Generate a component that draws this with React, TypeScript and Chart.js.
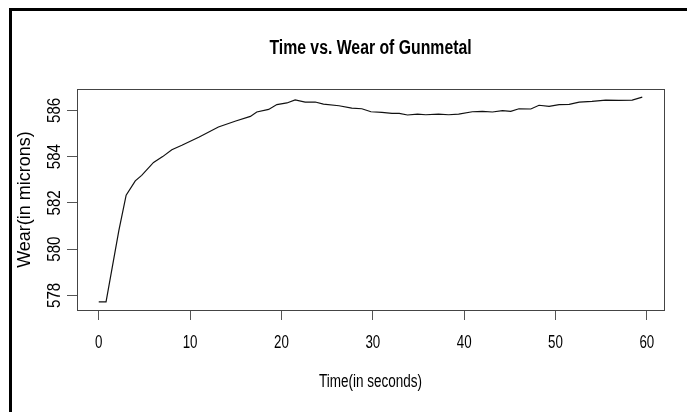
import React, { useEffect, useRef } from "react";
import { Chart, registerables } from "chart.js";

Chart.register(...registerables);

const timeSeconds = [
  0, 0.8, 2.2, 3.0, 4.0, 4.7, 6.0, 7.0, 8.0, 9.1, 11.0, 13.1, 15.0, 16.6, 17.3,
  18.6, 19.5, 20.6, 21.5, 22.6, 23.7, 24.6, 26.3, 27.7, 28.8, 29.8, 31.0, 32.1,
  32.9, 33.8, 34.9, 35.8, 37.2, 38.3, 39.4, 40.9, 42.0, 43.1, 44.2, 45.1, 46.0,
  47.3, 48.2, 49.3, 50.4, 51.5, 52.6, 54.0, 55.5, 56.9, 58.4, 59.5,
];
const wearMicrons = [
  577.72, 577.72, 580.8, 582.33, 582.95, 583.19, 583.75, 584.0, 584.3, 584.49,
  584.85, 585.28, 585.54, 585.74, 585.93, 586.04, 586.25, 586.32, 586.45, 586.36,
  586.36, 586.27, 586.2, 586.1, 586.07, 585.94, 585.91, 585.87, 585.87, 585.8,
  585.84, 585.81, 585.84, 585.81, 585.84, 585.94, 585.96, 585.93, 585.99, 585.96,
  586.07, 586.06, 586.22, 586.17, 586.25, 586.26, 586.36, 586.39, 586.44, 586.43,
  586.44, 586.57,
];
const xTickValues = [0, 10, 20, 30, 40, 50, 60];
const yTickValues = [578, 580, 582, 584, 586];

const chartTitle = "Time vs. Wear of Gunmetal";
const xTitle = "Time(in seconds)";
const yTitle = "Wear(in microns)";

const FAMILY = '"Liberation Sans", Arial, Helvetica, sans-serif';

function rExpand(values: number[]) {
  const lo = Math.min(...values);
  const hi = Math.max(...values);
  const d = (hi - lo) * 0.04;
  return [lo - d, hi + d];
}

// draws text centred at (x, baseline y) in the rotated frame, squeezed along the text direction
function drawNarrow(
  ctx: CanvasRenderingContext2D,
  text: string,
  x: number,
  y: number,
  font: string,
  squeeze: number,
  rotation: number
) {
  ctx.save();
  ctx.translate(x, y);
  ctx.rotate(rotation);
  ctx.scale(squeeze, 1);
  ctx.font = font;
  ctx.fillStyle = "#000";
  ctx.textAlign = "center";
  ctx.textBaseline = "alphabetic";
  ctx.fillText(text, 0, 0);
  ctx.restore();
}

const framePlugin = {
  id: "frame",
  afterDraw(chart: any) {
    const { ctx, chartArea } = chart;
    const xs = chart.scales.x;
    const ys = chart.scales.y;
    ctx.save();
    ctx.strokeStyle = "#444";
    ctx.lineWidth = 1;
    ctx.strokeRect(
      Math.round(chartArea.left) + 0.5,
      Math.round(chartArea.top) + 0.5,
      Math.round(chartArea.right - chartArea.left),
      Math.round(chartArea.bottom - chartArea.top)
    );
    ctx.fillStyle = "#000";
    ctx.fillRect(9, 8, 687, 3);
    ctx.fillRect(9, 8, 3, 412);

    const cx = (chartArea.left + chartArea.right) / 2;
    const cy = (chartArea.top + chartArea.bottom) / 2;

    // main title
    drawNarrow(ctx, chartTitle, cx, 54, `bold 20px ${FAMILY}`, 0.79, 0);

    // x tick labels
    xTickValues.forEach((v) => {
      drawNarrow(ctx, String(v), xs.getPixelForValue(v), 348, `18px ${FAMILY}`, 0.74, 0);
    });
    // x title
    drawNarrow(ctx, xTitle, cx, 387, `18px ${FAMILY}`, 0.75, 0);

    // y tick labels (rotated, reading upward)
    yTickValues.forEach((v) => {
      drawNarrow(ctx, String(v), 59.5, ys.getPixelForValue(v), `18px ${FAMILY}`, 0.84, -Math.PI / 2);
    });
    // y title
    drawNarrow(ctx, yTitle, 30, cy, `18px ${FAMILY}`, 1.0, -Math.PI / 2);
    ctx.restore();
  },
};

export default function App() {
  const ref = useRef<HTMLCanvasElement | null>(null);

  useEffect(() => {
    if (!ref.current) return;
    const [xmin, xmax] = rExpand(timeSeconds);
    const [ymin, ymax] = rExpand(wearMicrons);
    const points = timeSeconds.map((t, i) => ({ x: t, y: wearMicrons[i] }));
    const chart = new Chart(ref.current, {
      type: "line",
      data: {
        datasets: [
          {
            data: points,
            borderColor: "#111",
            borderWidth: 1.2,
            pointRadius: 0,
            tension: 0,
            fill: false,
          },
        ],
      },
      plugins: [framePlugin],
      options: {
        animation: false,
        responsive: false,
        events: [],
        layout: { padding: { top: 89, right: 23, left: 0, bottom: 0 } },
        plugins: {
          legend: { display: false },
          tooltip: { enabled: false },
          title: { display: false },
        },
        scales: {
          x: {
            type: "linear",
            min: xmin,
            max: xmax,
            afterBuildTicks: (scale: any) => {
              scale.ticks = xTickValues.map((v) => ({ value: v }));
            },
            afterFit: (scale: any) => {
              scale.height = 102;
            },
            border: { display: false },
            grid: {
              display: true,
              drawOnChartArea: false,
              drawTicks: true,
              tickLength: 10,
              color: "#555",
            },
            ticks: { display: false, autoSkip: false },
            title: { display: false },
          },
          y: {
            type: "linear",
            min: ymin,
            max: ymax,
            afterBuildTicks: (scale: any) => {
              scale.ticks = yTickValues.map((v) => ({ value: v }));
            },
            afterFit: (scale: any) => {
              scale.width = 77;
            },
            border: { display: false },
            grid: {
              display: true,
              drawOnChartArea: false,
              drawTicks: true,
              tickLength: 10,
              color: "#555",
            },
            ticks: { display: false, autoSkip: false },
            title: { display: false },
          },
        },
      },
    } as any);
    return () => chart.destroy();
  }, []);

  return (
    <div style={{ position: "absolute", left: 0, top: 0, width: 687, height: 412, background: "#fff" }}>
      <canvas ref={ref} width={687} height={412} style={{ width: 687, height: 412, display: "block" }} />
    </div>
  );
}
